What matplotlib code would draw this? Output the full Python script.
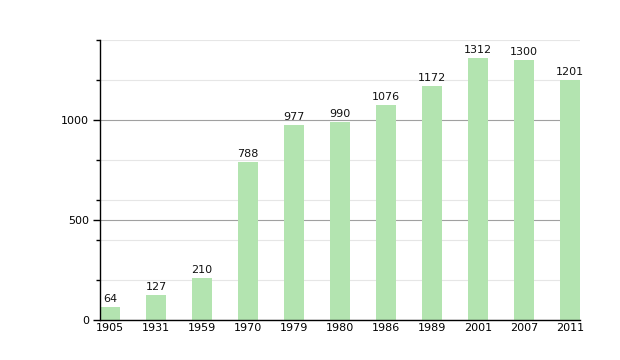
import matplotlib.pyplot as plt
from matplotlib.ticker import MultipleLocator

years = ['1905', '1931', '1959', '1970', '1979', '1980', '1986', '1989', '2001', '2007', '2011']
population = [64, 127, 210, 788, 977, 990, 1076, 1172, 1312, 1300, 1201]

fig = plt.figure(figsize=(6.2, 3.6), dpi=100)
ax = fig.add_axes([100/620, 40/360, 480/620, 280/360])

x = list(range(len(years)))
bars = ax.bar(x, population, width=0.435, color='#b3e4b0', zorder=2)

for xi, v in zip(x, population):
    ax.text(xi, v + 15, str(v), ha='center', va='bottom', fontsize=8, color='#111111')

ax.set_xlim(-0.217, len(years) - 1 + 0.217)
ax.set_ylim(0, 1400)
ax.set_xticks(x)
ax.set_xticklabels(years, fontsize=8)
ax.tick_params(axis='x', length=0, pad=2)

ax.yaxis.set_major_locator(MultipleLocator(500))
ax.yaxis.set_minor_locator(MultipleLocator(200))
ax.tick_params(axis='y', which='major', length=5, width=1, labelsize=8, pad=3)
ax.tick_params(axis='y', which='minor', length=3, width=1)

# gridlines: light every 200, darker at 500s
ax.grid(axis='y', which='minor', color='#e6e6e6', linewidth=0.8, zorder=0)
ax.grid(axis='y', which='major', color='#a0a0a0', linewidth=0.8, zorder=1)

for s in ['top', 'right']:
    ax.spines[s].set_visible(False)
ax.spines['left'].set_linewidth(1)
ax.spines['bottom'].set_linewidth(1)
ax.spines['bottom'].set_zorder(3)

fig.savefig('out.png', dpi=100)
